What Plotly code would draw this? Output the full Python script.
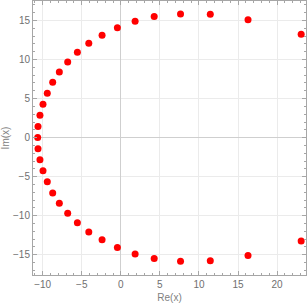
import plotly.graph_objects as go

re_upper = [-10.64, -10.6, -10.35, -9.96, -9.41, -8.72, -7.87, -6.8, -5.56, -4.1, -2.4,
            -0.44, 1.83, 4.27, 7.64, 11.45, 16.28, 23.08]
im_upper = [0.0, 1.43, 2.85, 4.26, 5.67, 7.08, 8.40, 9.68, 10.92, 12.08, 13.1,
            14.08, 14.9, 15.5, 15.83, 15.79, 15.1, 13.23]
re_lower = re_upper[1:]
im_lower = [-v for v in im_upper[1:]]

re_vals = re_upper + re_lower
im_vals = im_upper + im_lower

x_range = [-11.24, 23.7]
y_range = [-17.6, 17.5]
x_ticks = [-10, -5, 0, 5, 10, 15, 20]
y_ticks = [-15, -10, -5, 0, 5, 10, 15]

fig = go.Figure()
fig.add_trace(go.Scatter(x=re_vals, y=im_vals, mode="markers",
                         marker=dict(color="#ff0000", size=7, line=dict(width=0)),
                         showlegend=False, hoverinfo="skip", cliponaxis=False))

axis_common = dict(
    showline=True, linecolor="#a6a6a6", linewidth=1, mirror="allticks",
    ticks="inside", ticklen=4, tickcolor="#a6a6a6", tickwidth=1,
    showgrid=True, gridcolor="#ebebeb", gridwidth=1,
    zeroline=True, zerolinecolor="#cfcfcf", zerolinewidth=1,
    tickfont=dict(family="Liberation Sans, Arial, sans-serif", size=10, color="#707070"),
    minor=dict(ticks="inside", ticklen=2, tickcolor="#a6a6a6", dtick=1, showgrid=False),
    title_font=dict(family="Liberation Sans, Arial, sans-serif", size=10, color="#808080"),
)

fig.update_xaxes(range=x_range, tickvals=x_ticks, title_text="Re(x)",
                 title_standoff=4, **axis_common)
fig.update_yaxes(range=y_range, tickvals=y_ticks, title_text="Im(x)",
                 title_standoff=4, **axis_common)

fig.update_layout(width=308, height=303, margin=dict(l=33, r=2, t=1, b=28, autoexpand=False),
                  paper_bgcolor="white", plot_bgcolor="white", hovermode=False)

fig.write_html("out.html", config={"displayModeBar": False, "staticPlot": True},
               post_script="document.body.style.margin='0';document.body.style.overflow='hidden';")
